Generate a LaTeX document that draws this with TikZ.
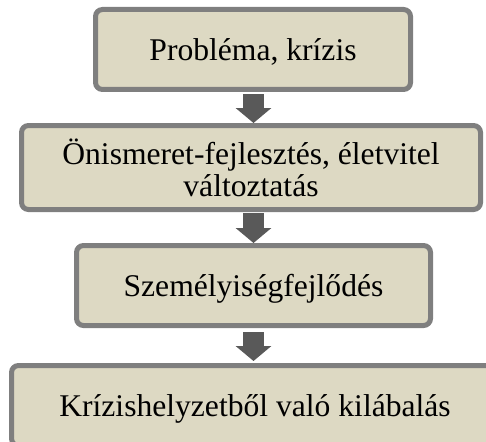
\documentclass[tikz,border=0pt]{standalone}
\usepackage{fontspec}
\setmainfont{Liberation Serif}
\usetikzlibrary{arrows.meta}
\definecolor{boxfill}{HTML}{DDD9C3}
\definecolor{boxline}{HTML}{7F7F7F}
\definecolor{arrowgray}{HTML}{595959}
\begin{document}
\begin{tikzpicture}[x=1pt,y=-1pt,
  stepbox/.style={draw=boxline, line width=5pt, fill=boxfill, rounded corners=7pt,
    inner sep=0pt, align=center, font=\fontsize{31.6}{32}\selectfont},
  flow/.style={draw=arrowgray, line width=21pt,
    -{Triangle[length=15pt,width=35pt,color=arrowgray,fill=arrowgray]}}]
\useasboundingbox (0,0) rectangle (486,441);
\clip (0,0) rectangle (486,441);
\node[stepbox, minimum width=315pt, minimum height=80pt, text height=22pt, text depth=0pt] (b1) at (253,49.5) {Probléma, krízis};
\node[stepbox, minimum width=459pt, minimum height=84pt] (b2) at (251,167.5) {Önismeret-fejlesztés, életvitel\\változtatás};
\node[stepbox, minimum width=354pt, minimum height=80pt, text height=22pt, text depth=0pt] (b3) at (253.5,285.5) {Személyiségfejlődés};
\node[stepbox, minimum width=487pt, minimum height=80pt, text height=22pt, text depth=0pt] (b4) at (255,405.5) {Krízishelyzetből való kilábalás};
\coordinate (ax) at (253.5,0);
\draw[flow] ([yshift=-2pt]b1.south -| ax) -- (b2.north -| ax);
\draw[flow] ([yshift=-1pt]b2.south -| ax) -- (b3.north -| ax);
\draw[flow] ([yshift=-4pt]b3.south -| ax) -- ([yshift=2pt]b4.north -| ax);
\end{tikzpicture}
\end{document}
